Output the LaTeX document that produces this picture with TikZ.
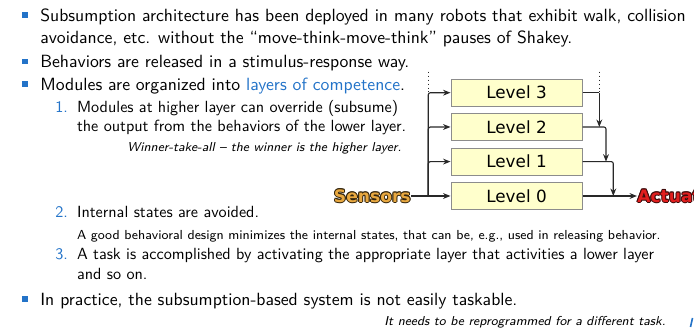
\documentclass[tikz,border=0pt]{standalone}
\usepackage{fontspec}
\newfontfamily\dejavu{DejaVu Sans}
\usetikzlibrary{arrows.meta}

\definecolor{structblue}{RGB}{35,115,200}
\definecolor{boxfill}{RGB}{255,255,204}
\definecolor{boxline}{RGB}{140,140,140}
\definecolor{wire}{RGB}{40,40,40}
\definecolor{sensfill}{RGB}{232,168,64}
\definecolor{sensedge}{RGB}{50,36,12}
\definecolor{actfill}{RGB}{225,30,30}
\definecolor{actedge}{RGB}{60,10,10}

% text drawn with a thin outline: copies in #1 behind the text in #2
\newcommand\outlinedtext[3]{%
  \begingroup
  \def\olcopy##1##2{\makebox[0pt][l]{\hspace*{##1}\raisebox{##2}{\color{#1}#3}}}%
  \olcopy{0.6pt}{0pt}\olcopy{-0.6pt}{0pt}\olcopy{0pt}{0.6pt}\olcopy{0pt}{-0.6pt}%
  \olcopy{0.42pt}{0.42pt}\olcopy{-0.42pt}{0.42pt}\olcopy{0.42pt}{-0.42pt}\olcopy{-0.42pt}{-0.42pt}%
  {\color{#2}#3}%
  \endgroup}

\tikzset{
  txt/.style={anchor=base west, inner sep=0pt, font=\sffamily\fontsize{10.95}{13.6}\selectfont},
  subtxt/.style={anchor=base west, inner sep=0pt, font=\sffamily\fontsize{10}{12}\selectfont},
  numtxt/.style={subtxt, text=structblue},
  notetxt/.style={anchor=base west, inner sep=0pt, font=\sffamily\fontsize{8.1}{9.5}\selectfont},
  remark/.style={anchor=base east, inner sep=0pt, font=\sffamily\itshape\fontsize{8}{9.5}\selectfont},
  bulletsq/.style={fill=structblue},
  level/.style={draw=boxline, line width=0.6pt, fill=boxfill, minimum width=81.1pt,
    minimum height=16.7pt, inner sep=0pt, font=\dejavu\fontsize{10.4}{12}\selectfont},
  conn/.style={draw=wire, line width=0.7pt, rounded corners=1.3pt},
  arr/.style={conn, -{Stealth[length=4.6pt,width=3.6pt]}},
  dotline/.style={draw=wire, line width=0.45pt, dotted},
  tag/.style={inner sep=0pt, font=\dejavu\bfseries\fontsize{10.6}{12}\selectfont}
}

\begin{document}
\begin{tikzpicture}[x=0.619pt, y=-0.619pt]
\useasboundingbox (0,0) rectangle (694,328);

% bullet list
\fill[bulletsq] (22.4,12.4) rectangle (28,18);
\node[txt] (l1) at (40,21.5) {Subsumption architecture has been deployed in many robots that exhibit walk, collision};
\node[txt] (l2) at (40,43.5) {avoidance, etc. without the “move-think-move-think” pauses of Shakey.};
\fill[bulletsq] (22.4,58.9) rectangle (28,64.5);
\node[txt] (l3) at (40,68) {Behaviors are released in a stimulus-response way.};
\fill[bulletsq] (22.4,81.4) rectangle (28,87);
\node[txt] (l4) at (40,90.5) {Modules are organized into \textcolor{structblue}{layers of competence}.};

\node[numtxt] (n1) at (55,112.5) {1.};
\node[subtxt] (l5) at (76.7,112.5) {Modules at higher layer can override (subsume)};
\node[subtxt] (l6) at (76.7,132) {the output from the behaviors of the lower layer.};
\node[remark] (r1) at (401.7,151.5) {Winner-take-all – the winner is the higher layer.};

\node[numtxt] (n2) at (55,218) {2.};
\node[subtxt] (l7) at (76.7,218) {Internal states are avoided.};
\node[notetxt] (l8) at (76.7,240) {A good behavioral design minimizes the internal states, that can be, e.g., used in releasing behavior.};
\node[numtxt] (n3) at (55,259.5) {3.};
\node[subtxt] (l9) at (76.7,259.5) {A task is accomplished by activating the appropriate layer that activities a lower layer};
\node[subtxt] (l10) at (76.7,280) {and so on.};

\fill[bulletsq] (22.4,296.2) rectangle (28,301.8);
\node[txt] (l11) at (40,305.5) {In practice, the subsumption-based system is not easily taskable.};
\node[remark] (r2) at (666,325.5) {It needs to be reprogrammed for a different task.};
\draw[structblue, line width=1pt] (692.5,318) -- (690.5,327);

% layered architecture
\node[level] (L3) at (516.5,92.7) {Level 3};
\node[level] (L2) at (516.5,127) {Level 2};
\node[level] (L1) at (516.5,161.6) {Level 1};
\node[level] (L0) at (516.5,196) {Level 0};

\node[tag, anchor=east] (sens) at (411,196) {\outlinedtext{sensedge}{sensfill}{Sensors}};
\node[tag, anchor=west] (act) at (637,196) {\outlinedtext{actedge}{actfill}{Actuators}};

\coordinate (bus) at (428.3,196);
\coordinate (dotL) at (428.3,71.7);
\coordinate (dotR) at (599.3,71.7);
\coordinate (j2) at (606,127);
\coordinate (j1) at (613.3,161.6);

% sensor inputs
\draw[arr] (sens.east) -- (L0.west);
\draw[arr] (bus) |- (L1.west);
\draw[arr] (bus) |- (L2.west);
\draw[arr] (bus) |- (L3.west);
\draw[dotline] (dotL) -- (dotL |- L3.west);
\draw[dotline] (dotR) -- (dotR |- L3.east);

% outputs subsuming the lower layers
\draw[conn] (L3.east) -- (dotR |- L3.east);
\draw[arr] (dotR |- L3.east) -- (dotR |- L2.east);
\draw[arr] (L2.east) -| (j2 |- L1.east);
\draw[arr] (L1.east) -| (j1 |- L0.east);
\draw[arr] (L0.east) -- (act.west);
\end{tikzpicture}
\end{document}
